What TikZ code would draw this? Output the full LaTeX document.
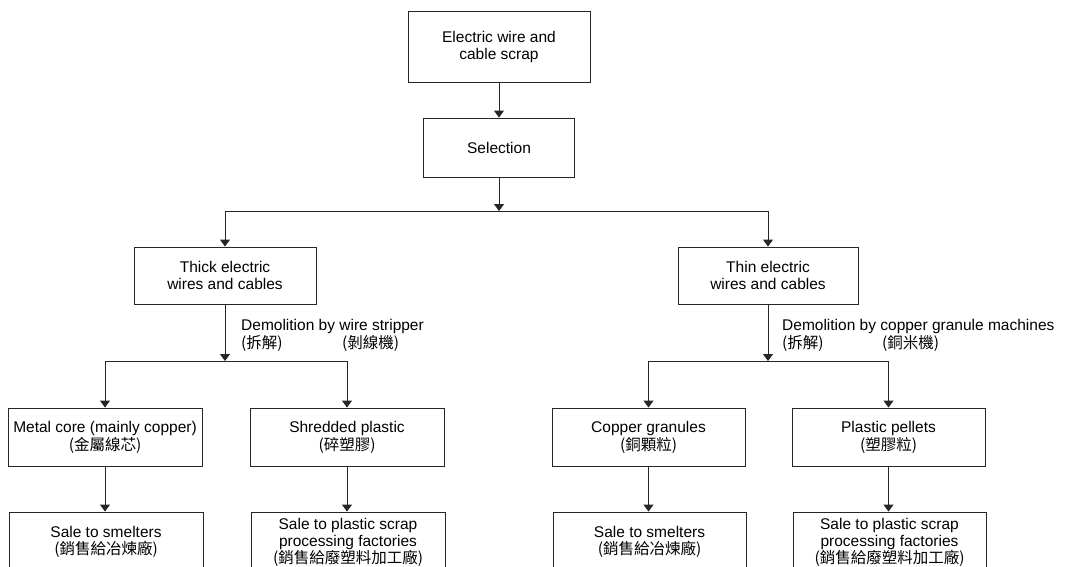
\documentclass[tikz,border=0pt]{standalone}
\usepackage{fontspec}
\setmainfont{Liberation Sans}
\newfontfamily\cjkfont{Noto Sans CJK TC}
\newcommand\cjktext[1]{{\cjkfont #1}}
\usetikzlibrary{arrows.meta}
\begin{document}
\begin{tikzpicture}[x=1pt,y=-1pt,
  box/.style={draw=black!85, line width=0.9pt, rectangle, align=center, inner sep=0pt,
    font=\fontsize{15.5}{17}\selectfont},
  arr/.style={draw=black!85, line width=0.9pt, -{Triangle[width=10pt,length=7pt]}},
  ln/.style={draw=black!85, line width=0.9pt},
  lbl/.style={anchor=west, inner sep=0pt, font=\fontsize{15.5}{17}\selectfont}]
\useasboundingbox (0,0) rectangle (1066,566);
\clip (0,0) rectangle (1066,566);
\node[box, minimum width=182pt, minimum height=71pt] (top) at (499,46.5) {Electric wire and\\cable scrap};
\node[box, minimum width=151pt, minimum height=59pt] (sel) at (499,147.5) {Selection};
\coordinate (j1) at (499,211);
\node[box, minimum width=182pt, minimum height=57pt] (thick) at (225,275.5) {Thick electric\\wires and cables};
\node[box, minimum width=180pt, minimum height=57pt] (thin) at (768,275.5) {Thin electric\\wires and cables};
\coordinate (j2) at (225,361);
\coordinate (j3) at (768,361);
\node[box, minimum width=194pt, minimum height=58pt] (metal) at (105,437) {Metal core (mainly copper)\\[1pt]\cjktext{(金屬線芯)}};
\node[box, minimum width=194pt, minimum height=58pt] (shred) at (347,437) {Shredded plastic\\[1pt]\cjktext{(碎塑膠)}};
\node[box, minimum width=193pt, minimum height=58pt] (cgran) at (648.5,437) {Copper granules\\[1pt]\cjktext{(銅顆粒)}};
\node[box, minimum width=193pt, minimum height=58pt] (ppell) at (888.5,437) {Plastic pellets\\[1pt]\cjktext{(塑膠粒)}};
\node[box, minimum width=194pt, minimum height=60pt] (s1) at (106,542) {Sale to smelters\\\cjktext{(銷售給冶煉廠)}};
\node[box, minimum width=194pt, minimum height=60pt] (s2) at (348,542) {Sale to plastic scrap\\processing factories\\\cjktext{(銷售給廢塑料加工廠)}};
\node[box, minimum width=193pt, minimum height=60pt] (s3) at (649.5,542) {Sale to smelters\\\cjktext{(銷售給冶煉廠)}};
\node[box, minimum width=193pt, minimum height=60pt] (s4) at (889.5,542) {Sale to plastic scrap\\processing factories\\\cjktext{(銷售給廢塑料加工廠)}};
% labels
\node[lbl] (l1a) at (241,326) {Demolition by wire stripper};
\node[lbl] (l1b) at (241,343) {\cjktext{(拆解)}};
\node[lbl] (l1c) at (342,343) {\cjktext{(剝線機)}};
\node[lbl] (l2a) at (782,326) {Demolition by copper granule machines};
\node[lbl] (l2b) at (782,343) {\cjktext{(拆解)}};
\node[lbl] (l2c) at (882,343) {\cjktext{(銅米機)}};
% connectors
\draw[arr] (top) -- (sel);
\draw[arr] (sel) -- (j1);
\draw[arr] (j1) -| (thick.north);
\draw[arr] (j1) -| (thin.north);
\draw[arr] (thick) -- (j2);
\draw[arr] (j2) -| (metal.north);
\draw[arr] (j2) -| (shred.north);
\draw[arr] (thin) -- (j3);
\draw[arr] (j3) -| (cgran.north);
\draw[arr] (j3) -| (ppell.north);
\draw[arr] (metal.south) -- (metal.south |- s1.north);
\draw[arr] (shred.south) -- (shred.south |- s2.north);
\draw[arr] (cgran.south) -- (cgran.south |- s3.north);
\draw[arr] (ppell.south) -- (ppell.south |- s4.north);
\end{tikzpicture}
\end{document}
